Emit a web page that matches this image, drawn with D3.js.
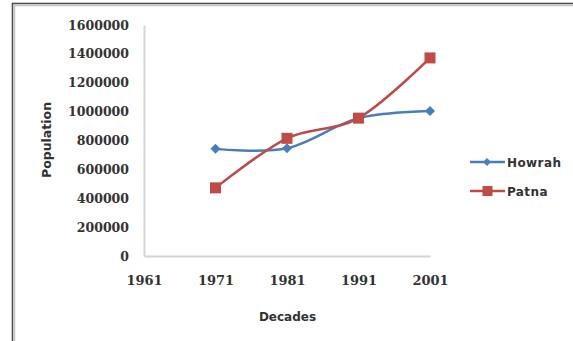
<!DOCTYPE html>
<html>
<head>
<meta charset="utf-8">
<script src="https://cdn.jsdelivr.net/npm/d3@7"></script>
<style>
  html, body { margin: 0; padding: 0; background: #fff; }
  svg { display: block; }
</style>
</head>
<body>
<svg id="chart" width="573" height="341"></svg>
<script>
// Census population of Howrah and Patna by decade
const decades = ["1961", "1971", "1981", "1991", "2001"];
const howrah = [null, 742000, 746000, 955000, 1005000];
const patna = [null, 472000, 815000, 955000, 1372000];
const yTicks = [0, 200000, 400000, 600000, 800000, 1000000, 1200000, 1400000, 1600000];
const seriesNames = ["Howrah", "Patna"];

const svg = d3.select("#chart");
const W = 573, H = 341;

// Outer frame (only its left and top edges fall inside the view)
svg.append("rect").attr("x", 12.5).attr("y", 3.5).attr("width", 600).attr("height", 400)
  .attr("fill", "none").attr("stroke", "#4d4d4d").attr("stroke-width", 1.6);
svg.append("rect").attr("x", 14.5).attr("y", 5.5).attr("width", 600).attr("height", 400)
  .attr("fill", "none").attr("stroke", "#c8c8c8").attr("stroke-width", 1.6);

const plot = { left: 144, right: 430, top: 25, bottom: 256 };

const x = d3.scalePoint().domain(decades).range([plot.left, plot.right]);
const y = d3.scaleLinear().domain([0, 1600000]).range([plot.bottom, plot.top]);

const serif = "'DejaVu Serif', serif";
const sans = "'DejaVu Sans', sans-serif";

// Y axis
const yAxis = svg.append("g").attr("transform", `translate(${plot.left},0)`)
  .call(d3.axisLeft(y).tickValues(yTicks).tickSize(0).tickPadding(15).tickFormat(d3.format("d")));
yAxis.select(".domain").attr("stroke", "#d4d4d4").attr("stroke-width", 2);
yAxis.selectAll("text").attr("font-family", serif).attr("font-weight", "bold")
  .attr("font-size", 12.5).attr("fill", "#333");

// X axis
const xAxis = svg.append("g").attr("transform", `translate(0,${plot.bottom})`)
  .call(d3.axisBottom(x).tickSize(0).tickPadding(20));
xAxis.select(".domain").attr("stroke", "#d4d4d4").attr("stroke-width", 2);
xAxis.selectAll("text").attr("font-family", serif).attr("font-weight", "bold")
  .attr("font-size", 13).attr("fill", "#333");

// Axis titles
svg.append("text").attr("x", (plot.left + plot.right) / 2 + 0.5).attr("y", 321)
  .attr("text-anchor", "middle").attr("font-family", sans).attr("font-weight", "bold")
  .attr("font-size", 12).attr("fill", "#333").text("Decades");
svg.append("text").attr("transform", "translate(51,140) rotate(-90)")
  .attr("text-anchor", "middle").attr("font-family", sans).attr("font-weight", "bold")
  .attr("font-size", 12.5).attr("fill", "#333").text("Population");

const colors = { Howrah: "#4a7ebb", Patna: "#be4b48" };
const line = d3.line()
  .defined(d => d.v != null)
  .x(d => x(d.k)).y(d => y(d.v))
  .curve(d3.curveCatmullRom.alpha(0));

const series = [
  { name: "Howrah", values: decades.map((k, i) => ({ k, v: howrah[i] })) },
  { name: "Patna", values: decades.map((k, i) => ({ k, v: patna[i] })) }
];

function marker(g, name, cx, cy) {
  if (name === "Howrah") {
    const s = 5;
    g.append("path").attr("d", `M${cx},${cy - s}L${cx + s},${cy}L${cx},${cy + s}L${cx - s},${cy}Z`)
      .attr("fill", colors[name]);
  } else {
    const s = 5.5;
    g.append("rect").attr("x", cx - s).attr("y", cy - s).attr("width", 2 * s).attr("height", 2 * s)
      .attr("fill", colors[name]);
  }
}

series.forEach(s => {
  svg.append("path").datum(s.values).attr("d", line)
    .attr("fill", "none").attr("stroke", colors[s.name]).attr("stroke-width", 2.5);
});
series.forEach(s => {
  const g = svg.append("g");
  s.values.filter(d => d.v != null).forEach(d => marker(g, s.name, x(d.k), y(d.v)));
});

// Legend
seriesNames.forEach((name, i) => {
  const ly = 162 + i * 29;
  const g = svg.append("g");
  g.append("line").attr("x1", 470).attr("x2", 505).attr("y1", ly).attr("y2", ly)
    .attr("stroke", colors[name]).attr("stroke-width", 2.5);
  if (name === "Howrah") {
    g.append("path").attr("d", `M487,${ly - 4}L491,${ly}L487,${ly + 4}L483,${ly}Z`).attr("fill", colors[name]);
  } else {
    g.append("rect").attr("x", 482.5).attr("y", ly - 5).attr("width", 10).attr("height", 10).attr("fill", colors[name]);
  }
  g.append("text").attr("x", 507).attr("y", ly + 4.5)
    .attr("font-family", sans).attr("font-weight", "bold").attr("font-size", 12)
    .attr("letter-spacing", 0.4).attr("fill", "#333").text(name);
});
</script>
</body>
</html>
